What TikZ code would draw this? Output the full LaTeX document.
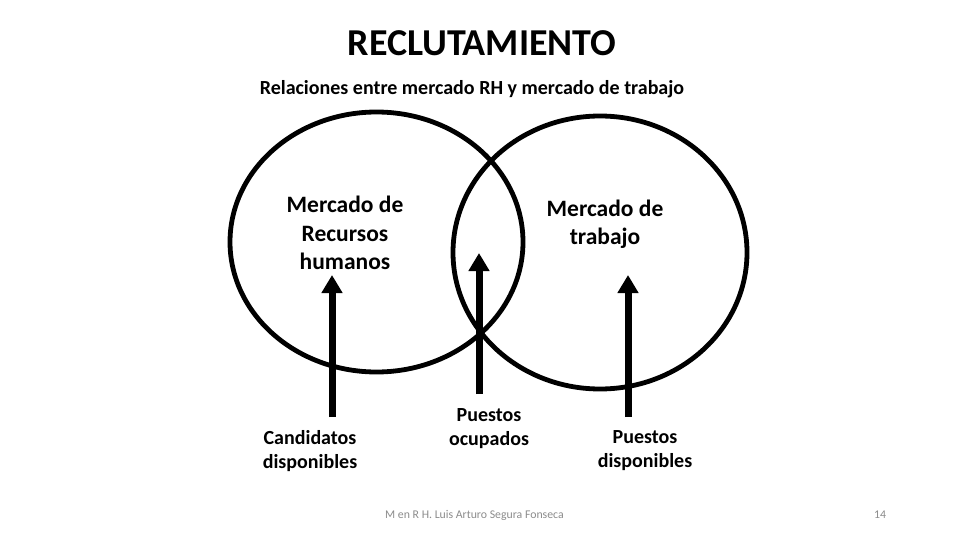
\documentclass[tikz,border=0pt]{standalone}
\usepackage{fontspec}
\setmainfont{Carlito}
\usetikzlibrary{arrows.meta,shapes.geometric}
\begin{document}
\begin{tikzpicture}[x=1pt,y=-1pt,
  ring/.style={draw=black,line width=4.8pt,ellipse,inner sep=0pt,outer sep=0pt},
  bigarrow/.style={draw=black,line width=7pt,-{Triangle[width=20pt,length=18pt]}},
  midlabel/.style={font=\fontsize{23.5}{28.5}\selectfont\bfseries,align=center,inner sep=0pt},
  lowlabel/.style={font=\fontsize{20}{24}\selectfont\bfseries,align=center,inner sep=0pt},
  footer/.style={font=\fontsize{11.8}{14}\selectfont,text=black!45,inner sep=0pt}]
\useasboundingbox[fill=white] (0,0) rectangle (960,540);

\node[font=\fontsize{38}{44}\selectfont\bfseries] (title) at (482,43) {RECLUTAMIENTO};
\node[font=\fontsize{20}{24}\selectfont\bfseries] (sub) at (472,89) {Relaciones entre mercado RH y mercado de trabajo};

\node[ring,minimum width=293pt,minimum height=260pt] (left) at (376.5,242) {};
\node[ring,minimum width=294pt,minimum height=273pt] (right) at (600,252.5) {};

\node[midlabel] (rh) at (345,233) {Mercado de\\Recursos\\humanos};
\node[midlabel] (trab) at (605,224) {Mercado de\\trabajo};

\node[lowlabel] (cand) at (310,451) {Candidatos\\disponibles};
\node[lowlabel] (ocup) at (489,429) {Puestos\\ocupados};
\node[lowlabel] (disp) at (645,451) {Puestos\\disponibles};

\coordinate (a1s) at (332,417);
\coordinate (a1e) at (332,275);
\coordinate (a2s) at (479,394);
\coordinate (a2e) at (479,253);
\coordinate (a3s) at (628,417);
\coordinate (a3e) at (628,275);
\draw[bigarrow] (a1s) -- (a1e);
\draw[bigarrow] (a2s) -- (a2e);
\draw[bigarrow] (a3s) -- (a3e);

\node[footer,anchor=west] (author) at (385,515) {M en R H. Luis Arturo Segura Fonseca};
\node[footer] (page) at (880,515) {14};
\end{tikzpicture}
\end{document}
